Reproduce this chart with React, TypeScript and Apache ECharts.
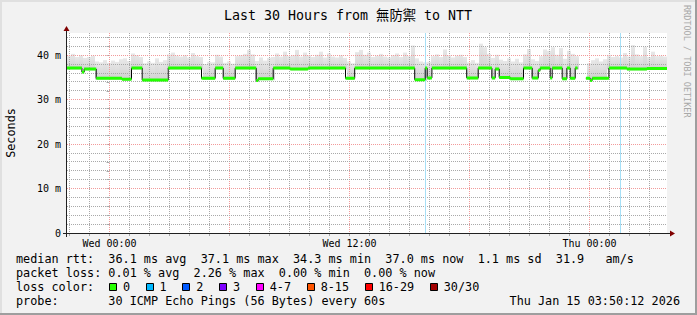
import React, { useEffect, useRef } from 'react';
import * as echarts from 'echarts';

// ---------- data ----------
const TITLE = 'Last 30 Hours from 無防禦 to NTT';
const X_MIN = -2.125; // hours relative to Wed 00:00
const X_MAX = 27.875;
const Y_MAX = 45; // ms

const minorHours = [-2, -1, 1, 2, 3, 4, 5, 7, 8, 9, 10, 11, 13, 14, 15, 16, 17, 19, 20, 21, 22, 23, 25, 26, 27];
const majorHours = [0, 6, 12, 18, 24];
const tickHours = [-2, -1, 0, 1, 2, 3, 4, 5, 6, 7, 8, 9, 10, 11, 12, 13, 14, 15, 16, 17, 18, 19, 20, 21, 22, 23, 24, 25, 26, 27];
const xLabelHours = [0, 12, 24];
const xLabelTexts = ['Wed 00:00', 'Wed 12:00', 'Thu 00:00'];

const minorMs = [2, 4, 6, 8, 12, 14, 16, 18, 22, 24, 26, 28, 32, 34, 36, 38, 42, 44];
const majorMs = [10, 20, 30, 40];
const tickMs = [0, 2, 4, 6, 8, 10, 12, 14, 16, 18, 20, 22, 24, 26, 28, 30, 32, 34, 36, 38, 40, 42, 44];
const yLabelMs = [0, 10, 20, 30, 40];

// median rtt: step segments (start hour, value ms); null = no data
const medianStart = [
  -2.125, -1.38, -1.265, -0.665, 0.62, 1.1, 1.635, 2.935, 4.6, 5.285,
  5.685, 6.285, 7.335, 7.435, 8.185, 9.035, 9.935, 11.8, 12.26, 15.26,
  15.785, 15.885, 16.12, 17.86, 18.435, 19.12, 19.285, 19.485, 20.035, 20.7,
  21.135, 21.435, 21.535, 22.035, 22.135, 22.635, 22.87, 23.035, 23.285, 23.4,
  23.82, 24.035, 24.135, 24.97, 25.87, 26.87,
];
const medianValue: (number | null)[] = [
  37.1, 36.2, 36.9, 34.8, 34.6, 37.1, 34.4, 37.1, 34.8, 37.1,
  34.8, 37.1, 34.3, 34.7, 37.1, 36.9, 37.1, 34.8, 37.1, 34.5,
  37.1, 34.9, 37.1, 34.9, 37.1, 34.9, 36.9, 35.0, 34.7, 37.1,
  34.9, 36.6, 37.1, 34.9, 37.1, 34.7, 37.1, 34.8, 37.1, null,
  34.8, 34.3, 34.8, 37.1, 36.9, 37.0,
];

// hours at which a single packet was lost
const lossHours = [15.8, 25.535];

// smoke: highest ping rtt per 12-minute column
const smokeStartHour = -2.125;
const smokeStepHours = 0.2;
const smokeTop: (number | null)[] = [
  39.9, 40.3, 39.6, 40.0, 39.4, 39.6, 39.9, 38.6, 38.4, 38.9,
  38.3, 38.8, 38.5, 39.1, 39.3, 38.7, 40.4, 40.0, 39.6, 38.2,
  38.6, 38.3, 39.3, 38.5, 38.9, 40.2, 40.6, 39.9, 39.7, 40.0,
  39.5, 40.5, 39.8, 39.6, 38.0, 38.5, 38.4, 40.1, 39.7, 38.3,
  38.6, 38.1, 39.8, 40.0, 40.3, 41.2, 40.2, 38.7, 39.5, 38.8,
  39.4, 39.6, 40.4, 39.7, 40.8, 39.8, 40.0, 41.2, 39.7, 40.6,
  40.0, 39.6, 40.1, 40.8, 39.5, 40.4, 39.7, 39.5, 40.0, 39.4,
  38.6, 38.2, 40.7, 41.2, 40.1, 40.6, 39.6, 39.9, 40.3, 39.7,
  39.5, 40.0, 40.4, 39.6, 40.6, 39.8, 42.2, 39.3, 38.6, 38.4,
  38.5, 39.8, 40.2, 39.6, 41.3, 40.0, 39.5, 39.9, 40.1, 39.6,
  38.4, 38.9, 38.3, 42.6, 41.8, 40.3, 39.4, 40.1, 39.0, 38.7,
  39.3, 38.6, 39.2, 38.4, 40.2, 41.4, 39.1, 38.7, 39.8, 41.3,
  41.0, 41.8, 40.1, 41.6, 39.2, 41.0, 40.3, 39.8, null, null,
  38.2, 38.9, 39.3, 38.6, 39.1, 40.1, 39.6, 39.8, 39.5, 40.5,
  39.7, 42.3, 40.2, 39.8, 41.9, 39.6, 40.8, 39.8, 39.9, 39.7,
];

const legendRtt = 'median rtt:  36.1 ms avg  37.1 ms max  34.3 ms min  37.0 ms now  1.1 ms sd  31.9   am/s';
const legendLoss = 'packet loss: 0.01 % avg  2.26 % max  0.00 % min  0.00 % now';
const legendLossTitle = 'loss color:';
const lossLabels = ['0', '1', '2', '3', '4-7', '8-15', '16-29', '30/30'];
const lossColors = ['#26ff00', '#00b8ff', '#0059ff', '#7e00ff', '#ff00ff', '#ff5500', '#ff0000', '#a10000'];
const legendProbe = 'probe:       30 ICMP Echo Pings (56 Bytes) every 60s';
const dateText = 'Thu Jan 15 03:50:12 2026';
const watermark = 'RRDTOOL / TOBI OETIKER';
const yName = 'Seconds';

// ---------- layout ----------
const W = 697;
const H = 315;
const GL = 67;
const GT = 33;
const GW = 600;
const GH = 200;
const MONO = '"DejaVu Sans Mono", monospace';
const CHAR_W = 11.8 * 0.602;
const MINOR_COLOR = '#a9a9a9';
const MAJOR_COLOR = '#f29a9a';
const GRID_DASH = [1, 1];
const AXIS_COLOR = '#212121';
const ARROW_COLOR = '#800000';

function medianAt(h: number): number | null {
  let v: number | null = null;
  for (let i = 0; i < medianStart.length; i++) {
    if (h >= medianStart[i]) v = medianValue[i];
    else break;
  }
  return v;
}

export default function App() {
  const ref = useRef<HTMLDivElement>(null);
  useEffect(() => {
    document.body.style.margin = '0';
    const chart = echarts.init(ref.current!, null, { renderer: 'svg' });

    // median lines
    const blackData: any[] = [];
    const greenData: any[] = [];
    for (let i = 0; i < medianStart.length; i++) {
      const s = medianStart[i];
      const e = i + 1 < medianStart.length ? medianStart[i + 1] : X_MAX;
      const v = medianValue[i];
      if (v == null) {
        blackData.push([s, null]);
        continue;
      }
      blackData.push([s, v], [e, v]);
      greenData.push([s, v], [e, v], [e, null]);
    }

    // smoke columns: [hour, low, high]
    const smokeData: any[] = [];
    smokeTop.forEach((top, i) => {
      const h = smokeStartHour + (i + 0.5) * smokeStepHours;
      const m = medianAt(h);
      if (top != null && m != null) smokeData.push([h, m - 0.3, top]);
    });

    // grid line data: [hour|ms, major?]
    const vGrid = [...minorHours.map((h) => [h, 0]), ...majorHours.map((h) => [h, 1])];
    const hGrid = [...minorMs.map((v) => [v, 0]), ...majorMs.map((v) => [v, 1])];

    const graphics: any[] = [];
    // frame
    graphics.push(
      { type: 'rect', shape: { x: 0, y: 0, width: W, height: 2 }, style: { fill: '#e0e0e0' }, silent: true },
      { type: 'rect', shape: { x: 0, y: 0, width: 2, height: H }, style: { fill: '#e0e0e0' }, silent: true },
      { type: 'rect', shape: { x: W - 2, y: 0, width: 2, height: H }, style: { fill: '#9e9e9e' }, silent: true },
      { type: 'rect', shape: { x: 0, y: H - 2, width: W, height: 2 }, style: { fill: '#9e9e9e' }, silent: true },
    );
    // title
    graphics.push({
      type: 'text', x: 348, y: 15, silent: true,
      style: { text: TITLE, fontFamily: '"DejaVu Sans Mono", "Noto Sans CJK TC", monospace', fontSize: 13.3, fill: '#000', align: 'center', verticalAlign: 'middle' },
    });
    // y name
    graphics.push({
      type: 'text', x: 11, y: 133, rotation: Math.PI / 2, silent: true,
      style: { text: yName, fontFamily: MONO, fontSize: 11.8, fill: '#000', align: 'center', verticalAlign: 'middle' },
    });
    // watermark
    graphics.push({
      type: 'text', x: 687, y: 5, rotation: -Math.PI / 2, silent: true,
      style: { text: watermark, fontFamily: MONO, fontSize: 8.5, fill: '#a8a8a8', align: 'left', verticalAlign: 'middle' },
    });
    // axes lines + arrows
    const ay = GT + GH + 0.5;
    const ax = GL - 0.5;
    graphics.push(
      { type: 'line', z: 100, silent: true, shape: { x1: GL - 4, y1: ay, x2: GL + GW + 3, y2: ay }, style: { stroke: AXIS_COLOR, lineWidth: 1 } },
      { type: 'polygon', z: 100, silent: true, shape: { points: [[GL + GW + 3, ay - 3], [GL + GW + 8, ay], [GL + GW + 3, ay + 3]] }, style: { fill: ARROW_COLOR } },
      { type: 'line', z: 100, silent: true, shape: { x1: ax, y1: GT + GH + 4, x2: ax, y2: GT - 3 }, style: { stroke: AXIS_COLOR, lineWidth: 1 } },
      { type: 'polygon', z: 100, silent: true, shape: { points: [[ax - 3, GT - 2], [ax, GT - 7], [ax + 3, GT - 2]] }, style: { fill: ARROW_COLOR } },
    );
    // legend
    const legendX = 16;
    const textStyle = { fontFamily: MONO, fontSize: 11.8, fill: '#000', align: 'left', verticalAlign: 'middle' };
    graphics.push(
      { type: 'text', x: legendX, y: 259, silent: true, style: { ...textStyle, text: legendRtt } },
      { type: 'text', x: legendX, y: 273, silent: true, style: { ...textStyle, text: legendLoss } },
      { type: 'text', x: legendX, y: 287, silent: true, style: { ...textStyle, text: legendLossTitle } },
      { type: 'text', x: legendX, y: 301, silent: true, style: { ...textStyle, text: legendProbe } },
      { type: 'text', x: 680, y: 301, silent: true, style: { ...textStyle, align: 'right', text: dateText } },
    );
    let lx = 108.9;
    lossLabels.forEach((lab, i) => {
      graphics.push({
        type: 'rect', silent: true,
        shape: { x: Math.round(lx) + 0.5, y: 283.5, width: 7, height: 7 },
        style: { fill: lossColors[i], stroke: '#000', lineWidth: 1 },
      });
      graphics.push({ type: 'text', x: lx + 14, y: 287, silent: true, style: { ...textStyle, text: lab } });
      lx = lx + 14 + lab.length * CHAR_W + 15.6;
    });

    const smokeFill = new echarts.graphic.LinearGradient(0, 0, 0, 1, [
      { offset: 0, color: '#e8e8e8' },
      { offset: 1, color: '#d0d0d0' },
    ]);

    const option: any = {
      animation: false,
      backgroundColor: '#f2f2f2',
      grid: { left: GL, top: GT, width: GW, height: GH, show: true, backgroundColor: '#ffffff', borderWidth: 0 },
      xAxis: {
        type: 'value', min: X_MIN, max: X_MAX,
        axisLine: { show: false },
        splitLine: { show: false },
        axisTick: { show: true, customValues: tickHours, length: 3, lineStyle: { color: MINOR_COLOR } },
        axisLabel: {
          customValues: xLabelHours, margin: 5, color: '#000', fontFamily: MONO, fontSize: 10,
          formatter: (v: number) => {
            const k = xLabelHours.indexOf(v);
            return k >= 0 ? xLabelTexts[k] : '';
          },
        },
      },
      yAxis: {
        type: 'value', min: 0, max: Y_MAX,
        axisLine: { show: false },
        splitLine: { show: false },
        axisTick: { show: true, customValues: tickMs, length: 3, lineStyle: { color: MINOR_COLOR } },
        axisLabel: {
          customValues: yLabelMs, margin: 6, color: '#000', fontFamily: MONO, fontSize: 10,
          formatter: (v: number) => (v === 0 ? '0' : `${v} m`),
        },
      },
      graphic: graphics,
      series: [
        {
          type: 'custom', data: smokeData, z: 2, silent: true,
          encode: { x: 0, y: [1, 2] },
          renderItem: (params: any, api: any) => {
            const h = api.value(0);
            const top = api.coord([h, api.value(2)]);
            const bot = api.coord([h, api.value(1)]);
            const w = api.size([smokeStepHours, 0])[0];
            return {
              type: 'rect',
              shape: { x: top[0] - w / 2, y: top[1], width: w, height: bot[1] - top[1] },
              style: { fill: smokeFill },
            };
          },
        },
        {
          type: 'custom', data: vGrid, z: 3, silent: true,
          encode: { x: 0 },
          renderItem: (params: any, api: any) => {
            const x = Math.floor(api.coord([api.value(0), 0])[0]) + 0.5;
            return {
              type: 'line',
              shape: { x1: x, y1: GT, x2: x, y2: GT + GH },
              style: { stroke: api.value(1) ? MAJOR_COLOR : MINOR_COLOR, lineWidth: 1, lineDash: GRID_DASH },
            };
          },
        },
        {
          type: 'custom', data: hGrid, z: 3, silent: true,
          encode: { y: 0 },
          renderItem: (params: any, api: any) => {
            const y = Math.floor(api.coord([X_MIN, api.value(0)])[1]) + 0.5;
            return {
              type: 'line',
              shape: { x1: GL, y1: y, x2: GL + GW, y2: y },
              style: { stroke: api.value(1) ? MAJOR_COLOR : MINOR_COLOR, lineWidth: 1, lineDash: GRID_DASH },
            };
          },
        },
        {
          type: 'line', data: [[X_MIN, 0], [X_MAX, 0]], z: 4, silent: true, showSymbol: false,
          lineStyle: { opacity: 0, width: 0 },
          markLine: {
            silent: true, symbol: ['none', 'none'], label: { show: false }, animation: false,
            lineStyle: { color: '#a6dff6', type: 'solid', width: 1 },
            data: lossHours.map((h) => ({ xAxis: h })),
          },
        },
        {
          type: 'line', data: blackData, z: 5, silent: true, showSymbol: false, connectNulls: false,
          lineStyle: { color: '#000', width: 1 },
        },
        {
          type: 'line', data: greenData, z: 6, silent: true, showSymbol: false, connectNulls: false,
          lineStyle: { color: '#22ff00', width: 3, cap: 'butt' },
        },
      ],
    };
    chart.setOption(option);
    return () => chart.dispose();
  }, []);
  return <div ref={ref} style={{ width: W, height: H }} />;
}
